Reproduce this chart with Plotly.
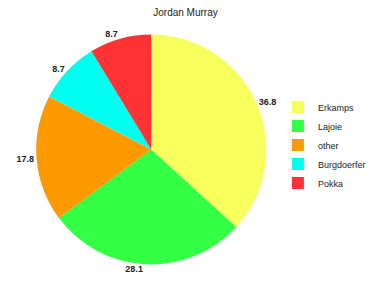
import plotly.graph_objects as go

labels = ["Erkamps", "Lajoie", "other", "Burgdoerfer", "Pokka"]
values = [36.8, 28.1, 17.8, 8.7, 8.7]
colors = ["#f6ff5c", "#33ff44", "#ff9900", "#00ffee", "#ff3333"]

W, H = 371, 286
T, B = 31, 18
fig = go.Figure(go.Pie(
    labels=labels, values=values, sort=False, direction="clockwise", rotation=0,
    marker=dict(colors=colors, line=dict(width=0)),
    textinfo="value", textposition="outside",
    texttemplate="<b>%{value}</b>",
    textfont=dict(family="Liberation Sans, Arial", size=9, color="#222"),
    domain=dict(x=[37 / W, 272 / W], y=[0, 1]),
    hoverinfo="label+value",
))
fig.update_layout(
    width=W, height=H,
    margin=dict(l=0, r=0, t=T, b=B),
    paper_bgcolor="white", plot_bgcolor="white",
    title=dict(text="Jordan Murray", x=0.5, xanchor="center", y=1 - 12 / H, yanchor="middle",
               font=dict(family="Liberation Sans, Arial", size=10, color="#222")),
    legend=dict(x=284 / W, y=(H - B - 145) / (H - T - B), xanchor="left", yanchor="middle",
                font=dict(family="Liberation Sans, Arial", size=9, color="#222"),
                itemwidth=30, tracegroupgap=0),
    showlegend=True,
)
fig.write_html("out.html")
